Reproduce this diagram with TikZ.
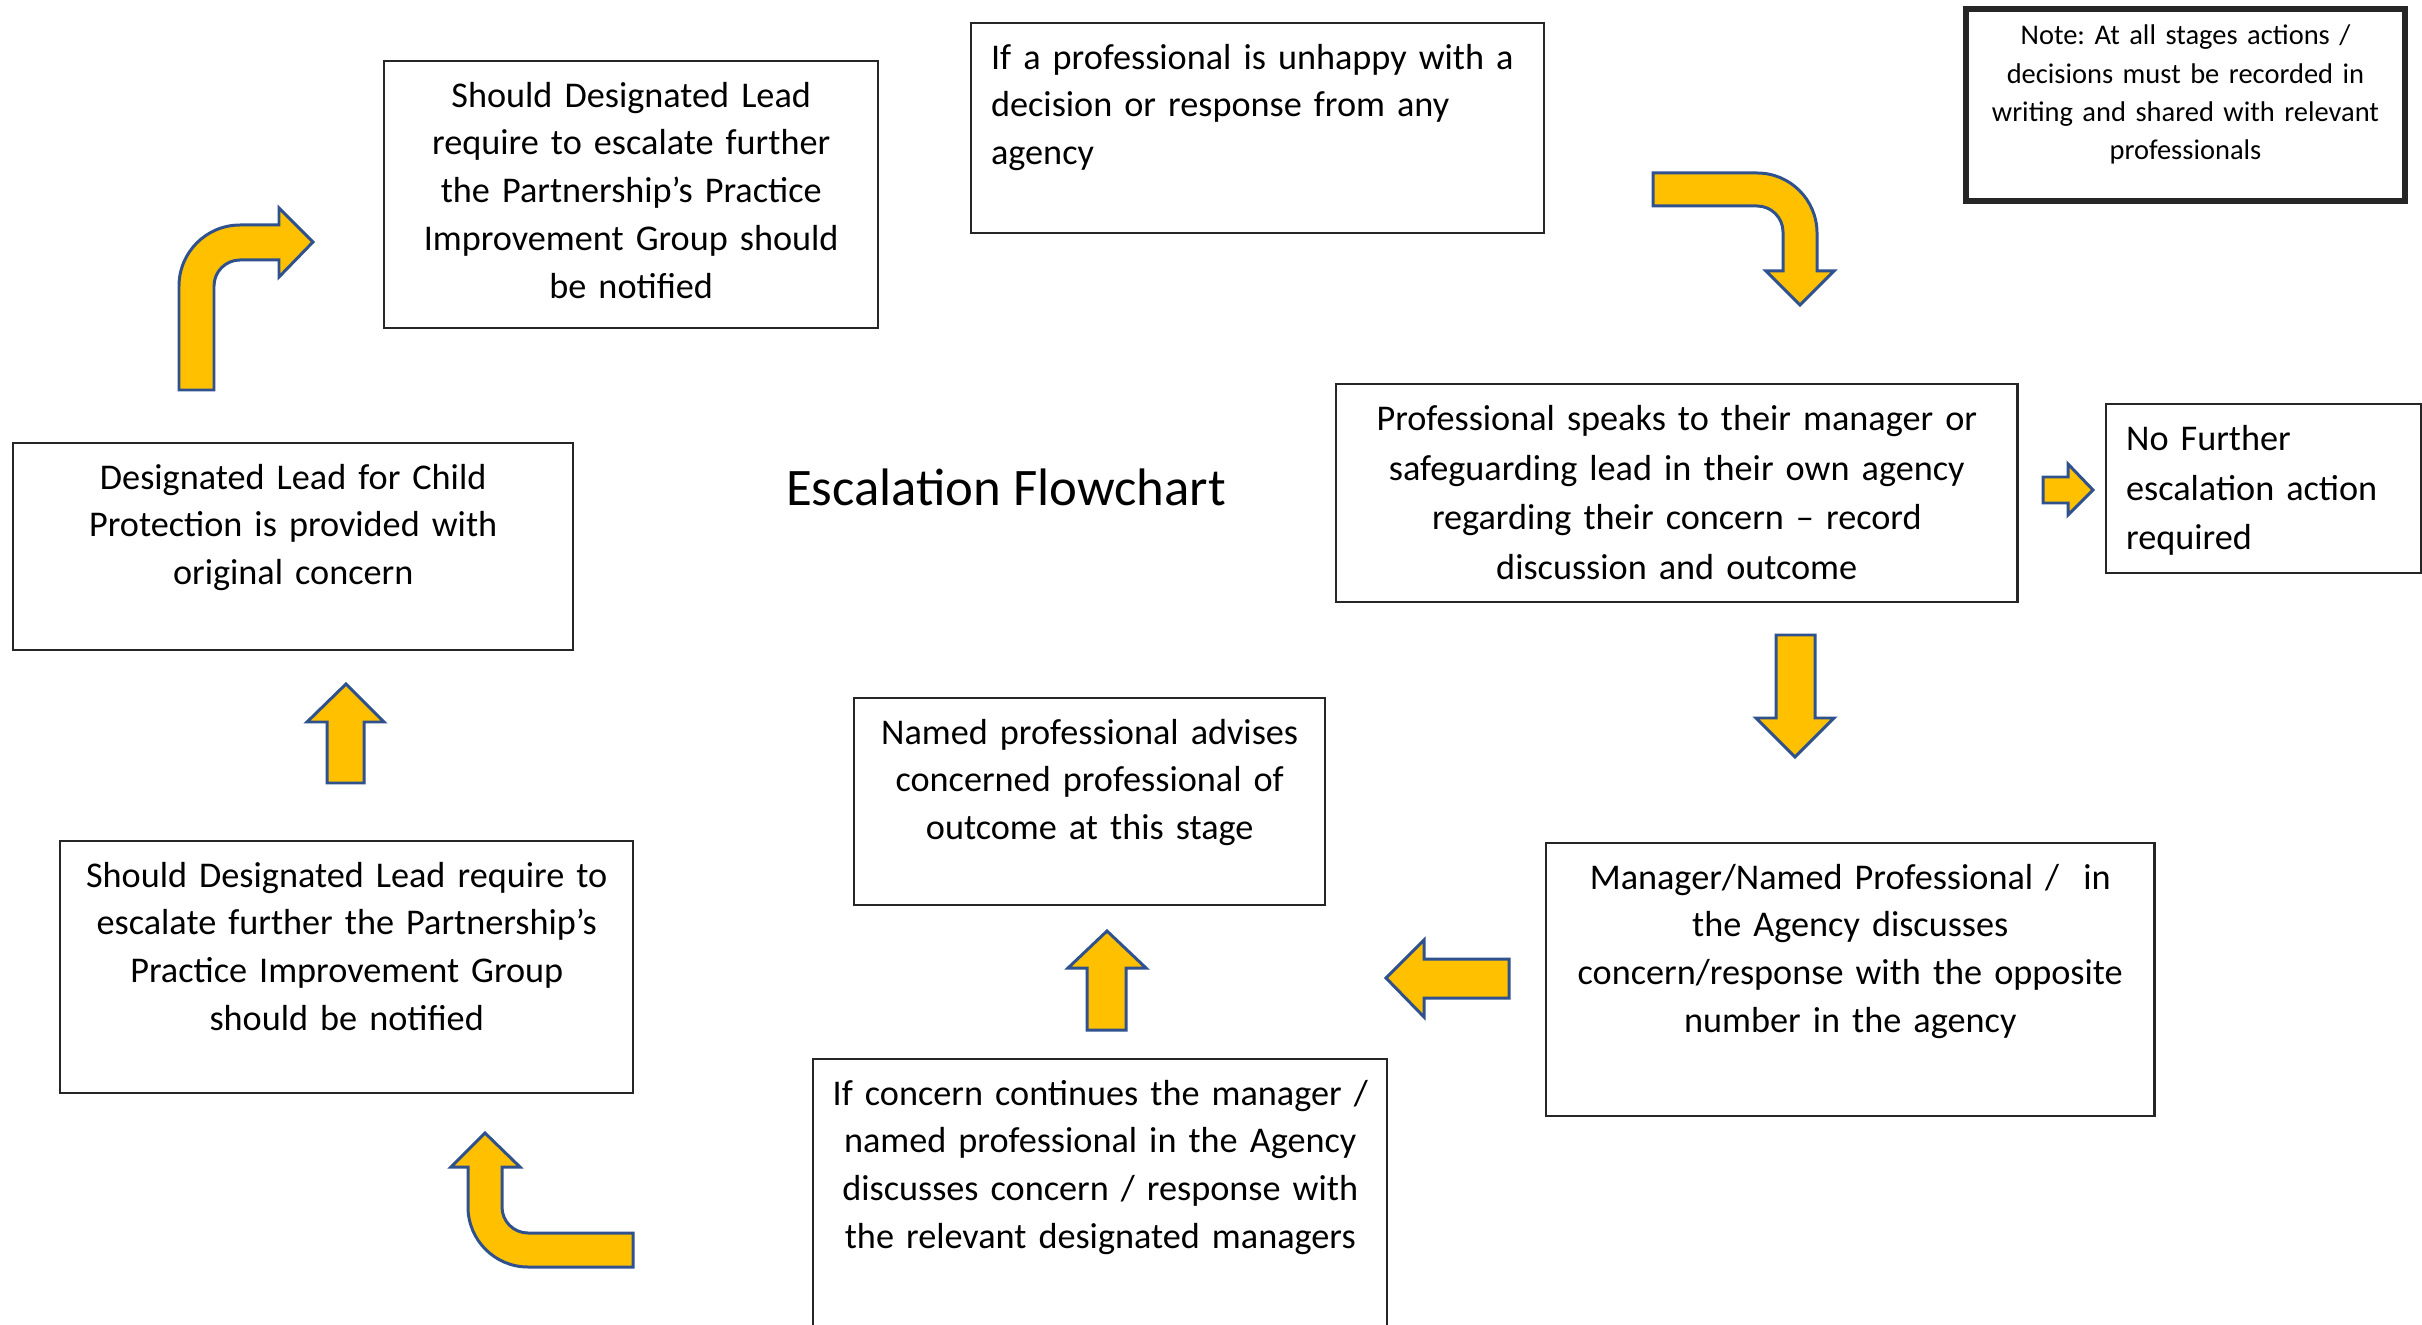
\documentclass[tikz,border=0pt]{standalone}
\usepackage{fontspec}
\setmainfont{Carlito}
\definecolor{arrowfill}{HTML}{FFC000}
\definecolor{arrowline}{HTML}{2F528F}
\frenchspacing
\hyphenpenalty=10000

\begin{document}
\begin{tikzpicture}[
  x=0.01cm, y=-0.01cm,
  box/.style={rectangle, draw=black!85, line width=0.6pt, anchor=north west,
    inner xsep=0.1cm, inner ysep=0pt, align=center, text height=0.46cm,
    font=\fontsize{10.3}{13.6}\selectfont},
  leftbox/.style={box, inner xsep=0.2cm, align=left},
  notebox/.style={box, line width=1.6pt, text height=0.36cm,
    font=\fontsize{8.1}{10.9}\selectfont},
  title/.style={anchor=base, font=\fontsize{15}{18}\selectfont},
  blockarrow/.style={fill=arrowfill, draw=arrowline, line width=0.85pt,
    line join=miter},
]
\useasboundingbox (0,0) rectangle (2422,1325);

\node[notebox, text width=4.19cm, text depth=1.56cm] (note) at (1963,6)
  {Note: At all stages actions /\\decisions must be recorded in\\
   writing and shared with relevant\\professionals};

\node[leftbox, text width=5.33cm, text depth=1.64cm] (unhappy) at (970,22)
  {If a professional is unhappy with a\\decision or response from any\\agency};

\node[box, text width=6.61cm, text depth=1.72cm,
  font=\fontsize{10.3}{14.2}\selectfont] (speaks) at (1335,383)
  {Professional speaks to their manager or\\safeguarding lead in their own agency\\
   regarding their concern – record\\discussion and outcome};

\node[leftbox, text width=2.75cm, text depth=1.23cm,
  font=\fontsize{10.3}{14.2}\selectfont] (nofurther) at (2105,403)
  {No Further\\escalation action\\required};

\node[box, text width=5.88cm, text depth=2.27cm] (managers) at (1545,842)
  {Manager/Named Professional /~ in\\the Agency discusses\\
   concern/response with the opposite\\number in the agency};

\node[box, text width=4.51cm, text depth=1.61cm] (advises) at (853,697)
  {Named professional advises\\concerned professional of\\outcome at this stage};

\node[box, text width=5.54cm, text depth=2.44cm] (continues) at (812,1058)
  {If concern continues the manager /\\named professional in the Agency\\
   discusses concern / response with\\the relevant designated managers};

\node[box, text width=5.53cm, text depth=2.06cm] (escalatelow) at (59,840)
  {Should Designated Lead require to\\escalate further the Partnership’s\\
   Practice Improvement Group\\should be notified};

\node[box, text width=5.40cm, text depth=1.61cm] (designated) at (12,442)
  {Designated Lead for Child\\Protection is provided with\\original concern};

\node[box, text width=4.74cm, text depth=2.21cm] (escalatetop) at (383,60)
  {Should Designated Lead\\require to escalate further\\the Partnership’s Practice\\
   Improvement Group should\\be notified};

\node[title] (heading) at (1006,505) {Escalation Flowchart};

% bent arrow: unhappy -> speaks
\draw[blockarrow] (1653,173) -- (1757,173) arc[start angle=-90, end angle=0, radius=60]
  -- (1817,271) -- (1834,271) -- (1800,305) -- (1766,271) -- (1783,271) -- (1783,232)
  arc[start angle=0, end angle=-90, radius=26] -- (1653,206) -- cycle;

% speaks -> nofurther
\draw[blockarrow] (2043,477) -- (2068,477) -- (2068,464) -- (2093,490) -- (2068,515)
  -- (2068,503) -- (2043,503) -- cycle;

% speaks -> managers
\draw[blockarrow] (1776,635) -- (1815,635) -- (1815,718) -- (1834,718) -- (1795,757)
  -- (1756,718) -- (1776,718) -- cycle;

% managers -> advises
\draw[blockarrow] (1509,959) -- (1424,959) -- (1424,940) -- (1386,978) -- (1424,1017)
  -- (1424,998) -- (1509,998) -- cycle;

% continues -> advises
\draw[blockarrow] (1087,1030) -- (1087,968) -- (1068,968) -- (1107,931) -- (1146,968)
  -- (1126,968) -- (1126,1030) -- cycle;

% bent arrow: continues -> escalatelow
\draw[blockarrow] (633,1233) -- (528,1233) arc[start angle=90, end angle=180, radius=26]
  -- (502,1167) -- (520,1167) -- (485,1133) -- (451,1167) -- (468,1167) -- (468,1207)
  arc[start angle=180, end angle=90, radius=60] -- (633,1267) -- cycle;

% escalatelow -> designated
\draw[blockarrow] (327,783) -- (327,722) -- (307,722) -- (346,684) -- (384,722)
  -- (364,722) -- (364,783) -- cycle;

% bent arrow: designated -> escalatetop
\draw[blockarrow] (179,390) -- (179,286) arc[start angle=180, end angle=270, radius=61]
  -- (279,225) -- (279,208) -- (313,242) -- (279,277) -- (279,260) -- (240,260)
  arc[start angle=270, end angle=180, radius=26] -- (214,390) -- cycle;

\end{tikzpicture}
\end{document}
